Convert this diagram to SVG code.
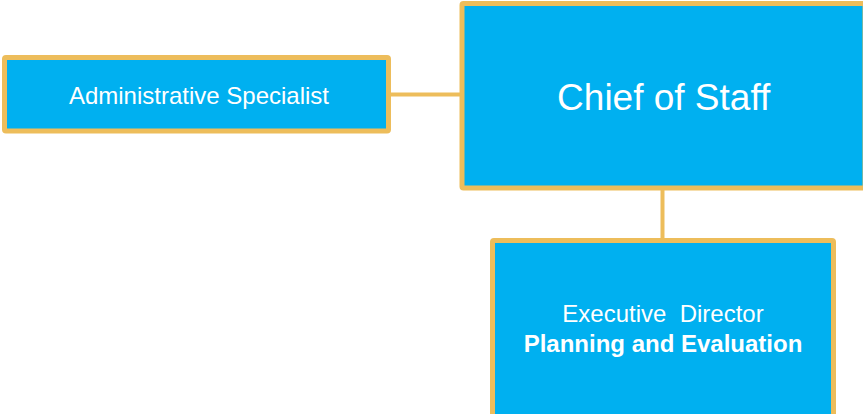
<svg xmlns="http://www.w3.org/2000/svg" width="863" height="414" viewBox="0 0 863 414">
<style>
.box{fill:#00B0F0;stroke:#EDBD5B;stroke-width:5;stroke-linejoin:round}
.conn{stroke:#EDBD5B;stroke-width:4;fill:none}
text{font-family:"Liberation Sans",Arial,sans-serif;fill:#FFFFFF;text-anchor:middle}
</style>
<rect width="863" height="414" fill="#FFFFFF"/>
<g id="connectors">
<line class="conn" x1="388" y1="94.5" x2="463" y2="94.5"/>
<line class="conn" x1="662.5" y1="188" x2="662.5" y2="241"/>
</g>
<g id="admin">
<rect class="box" x="4.5" y="57.5" width="384" height="73.5" rx="1.5"/>
<text x="199" y="104.3" font-size="24">Administrative Specialist</text>
</g>
<g id="chief">
<rect class="box" x="462" y="3.5" width="403" height="184.5" rx="1.5"/>
<text x="663.7" y="110" font-size="37">Chief of Staff</text>
</g>
<g id="exec">
<rect class="box" x="492.5" y="240.5" width="341" height="185" rx="1.5"/>
<text x="663" y="321.7" font-size="24" xml:space="preserve">Executive  Director</text>
<text x="663" y="351.7" font-size="24" font-weight="bold">Planning and Evaluation</text>
</g>
</svg>
